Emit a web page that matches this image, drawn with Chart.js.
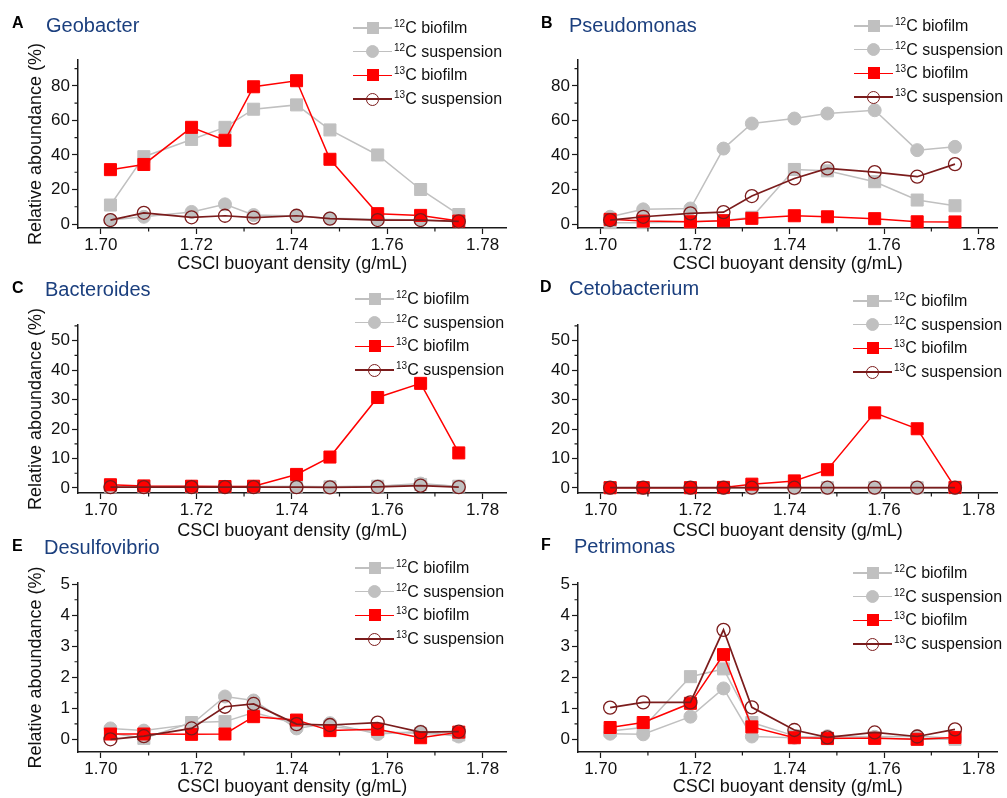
<!DOCTYPE html>
<html><head><meta charset="utf-8">
<script src="https://cdn.jsdelivr.net/npm/chart.js@4.4.1/dist/chart.umd.min.js"></script>
<style>
html,body{margin:0;padding:0;background:#fff;}
#wrap{position:relative;width:1007px;height:798px;overflow:hidden;font-family:"Liberation Sans",Arial,sans-serif;}
canvas{position:absolute;}
.lbl{position:absolute;white-space:nowrap;line-height:1;z-index:5;}
.letter{font-weight:bold;font-size:16px;color:#000;}
.name{font-size:20px;color:#1b3f7e;}
.leg{position:absolute;z-index:5;}
.row{position:absolute;left:0;height:0;width:200px;}
.ln{position:absolute;left:0;width:39px;height:1.5px;top:-0.75px;}
.mk{position:absolute;box-sizing:border-box;}
.tx{position:absolute;left:41px;top:-10px;font-size:16px;color:#111;white-space:nowrap;line-height:20px;}
.tx sup{font-size:10px;vertical-align:0;position:relative;top:-6px;line-height:0;}
</style>
</head>
<body>
<div id="wrap">
  <canvas id="cA" width="516" height="275" style="left:0;top:0"></canvas>
  <canvas id="cB" width="507" height="275" style="left:500px;top:0"></canvas>
  <canvas id="cC" width="516" height="272" style="left:0;top:270px"></canvas>
  <canvas id="cD" width="507" height="272" style="left:500px;top:270px"></canvas>
  <canvas id="cE" width="516" height="268" style="left:0;top:530px"></canvas>
  <canvas id="cF" width="507" height="268" style="left:500px;top:530px"></canvas>
</div>
<script>
// ---------- data ----------
const DENSITY = [1.702, 1.709, 1.719, 1.726, 1.732, 1.741, 1.748, 1.758, 1.767, 1.775];
const X_TICKS = [1.70, 1.72, 1.74, 1.76, 1.78];
const X_TICK_LABELS = ['1.70', '1.72', '1.74', '1.76', '1.78'];
const X_MINOR = [1.71, 1.73, 1.75, 1.77];
const SERIES = ['\u00B9\u00B2C biofilm', '\u00B9\u00B2C suspension', '\u00B9\u00B3C biofilm', '\u00B9\u00B3C suspension'];
const SERIES_SUP = ['12', '12', '13', '13'];
const SERIES_REST = ['C biofilm', 'C suspension', 'C biofilm', 'C suspension'];
const PANEL_LETTERS = ['A', 'B', 'C', 'D', 'E', 'F'];
const PANEL_NAMES = ['Geobacter', 'Pseudomonas', 'Bacteroides', 'Cetobacterium', 'Desulfovibrio', 'Petrimonas'];
const X_TITLE = 'CSCl buoyant density (g/mL)';
const Y_TITLE = 'Relative aboundance (%)';

const Y_TICKS_AB = [0, 20, 40, 60, 80];
const Y_MINOR_AB = [10, 30, 50, 70, 90];
const Y_TICKS_CD = [0, 10, 20, 30, 40, 50];
const Y_MINOR_CD = [5, 15, 25, 35, 45, 55];
const Y_TICKS_EF = [0, 1, 2, 3, 4, 5];
const Y_MINOR_EF = [0.5, 1.5, 2.5, 3.5, 4.5];

// Geobacter
const GEO_12C_BIOFILM = [11, 39, 49, 56, 66.5, 69, 54.5, 40, 20, 5.5];
const GEO_12C_SUSP    = [2.3, 4.2, 7, 11.4, 5.2, 4.6, 3.3, 2.7, 2.3, 1.3];
const GEO_13C_BIOFILM = [31.5, 34.5, 56, 48.5, 79.5, 83, 37.5, 6, 5, 1.7];
const GEO_13C_SUSP    = [2.3, 6.5, 3.9, 4.8, 3.7, 4.8, 3.1, 2.3, 2.3, 1.5];
// Pseudomonas
const PSE_12C_BIOFILM = [0.8, 0.8, 1.3, 2, 3.9, 31.6, 30.8, 24.5, 13.9, 10.6];
const PSE_12C_SUSP    = [4.2, 8.5, 9, 43.7, 58.2, 61.1, 64, 65.9, 42.8, 44.7];
const PSE_13C_BIOFILM = [2.7, 1.7, 1.3, 1.9, 3.3, 4.8, 4.2, 3.1, 1.3, 1.2];
const PSE_13C_SUSP    = [2.3, 4.2, 6.2, 6.9, 16.2, 26.4, 32.2, 30.1, 27.4, 34.7];
// Bacteroides
const BAC_12C_BIOFILM = [0.5, 0.5, 0.5, 0.5, 0.5, 0.5, 0.4, 0.6, 1.2, 0.6];
const BAC_12C_SUSP    = [0.4, 0.4, 0.4, 0.4, 0.4, 0.5, 0.4, 0.6, 1.5, 0.5];
const BAC_13C_BIOFILM = [1.1, 0.7, 0.6, 0.5, 0.6, 4.6, 10.5, 30.7, 35.5, 11.9];
const BAC_13C_SUSP    = [0.3, 0.3, 0.3, 0.3, 0.3, 0.3, 0.2, 0.4, 0.8, 0.3];
// Cetobacterium
const CET_12C_BIOFILM = [0.1, 0.1, 0.1, 0.1, 0.1, 0.1, 0.1, 0.1, 0.1, 0.1];
const CET_12C_SUSP    = [0, 0, 0, 0, 0.1, 0.1, 0.1, 0.1, 0.1, 0];
const CET_13C_BIOFILM = [0.1, 0.1, 0.1, 0.2, 1.3, 2.4, 6.2, 25.5, 20.1, 0.2];
const CET_13C_SUSP    = [0.1, 0.1, 0.1, 0.1, 0.1, 0.1, 0.1, 0.1, 0.1, 0.1];
// Desulfovibrio
const DES_12C_BIOFILM = [0.2, 0.03, 0.54, 0.57, 0.86, 0.5, 0.41, 0.25, 0.19, 0.14];
const DES_12C_SUSP    = [0.35, 0.28, 0.48, 1.38, 1.25, 0.35, 0.52, 0.17, 0.25, 0.09];
const DES_13C_BIOFILM = [0.17, 0.17, 0.16, 0.17, 0.73, 0.62, 0.28, 0.32, 0.05, 0.23];
const DES_13C_SUSP    = [0.0, 0.1, 0.35, 1.05, 1.14, 0.49, 0.46, 0.54, 0.23, 0.25];
// Petrimonas
const PET_12C_BIOFILM = [0.27, 0.38, 2.02, 2.27, 0.54, 0.11, 0.02, 0.05, 0.0, 0.0];
const PET_12C_SUSP    = [0.18, 0.16, 0.73, 1.64, 0.09, 0.05, 0.1, 0.08, 0.1, 0.03];
const PET_13C_BIOFILM = [0.38, 0.54, 1.16, 2.73, 0.4, 0.05, 0.03, 0.03, 0.0, 0.06];
const PET_13C_SUSP    = [1.02, 1.19, 1.19, 3.53, 1.03, 0.3, 0.06, 0.22, 0.09, 0.32];

// ---------- styling / layout ----------
const FONT = '"Liberation Sans", Arial, sans-serif';
const GRAY = '#c0c0c0', RED = '#ff0000', DARKRED = '#7b1c1c', AXIS = '#1a1a1a';
const STYLES = [
  {color: GRAY, fill: GRAY, shape: 'rect', r: 8.5, bw: 1, lw: 1.5, order: 3},
  {color: GRAY, fill: GRAY, shape: 'circle', r: 6.5, bw: 1, lw: 1.5, order: 2},
  {color: RED, fill: RED, shape: 'rect', r: 8.5, bw: 1, lw: 1.5, order: 1},
  {color: DARKRED, fill: 'rgba(255,255,255,0)', shape: 'circle', r: 6.5, bw: 1.3, lw: 1.7, order: 0}
];

const minorTicks = {
  id: 'minorTicks',
  afterDraw(chart, args, opts) {
    const ctx = chart.ctx, a = chart.chartArea;
    const xs = chart.scales.x, ys = chart.scales.y;
    ctx.save();
    ctx.strokeStyle = AXIS; ctx.lineWidth = 1.2;
    ctx.beginPath();
    (opts.x || []).forEach(v => {
      const p = xs.getPixelForValue(v);
      if (p < a.left || p > a.right) return;
      ctx.moveTo(p, a.bottom); ctx.lineTo(p, a.bottom + 3.5);
    });
    (opts.y || []).forEach(v => {
      const p = ys.getPixelForValue(v);
      if (p < a.top - 0.5 || p > a.bottom) return;
      ctx.moveTo(a.left, p); ctx.lineTo(a.left - 3.5, p);
    });
    ctx.stroke();
    ctx.restore();
  }
};

function makeChart(id, series, cfg) {
  const datasets = series.map((vals, i) => {
    const s = STYLES[i];
    return {
      label: SERIES[i],
      data: DENSITY.map((d, k) => ({x: d, y: vals[k]})),
      borderColor: s.color, borderWidth: s.lw,
      pointStyle: s.shape, pointRadius: s.r, pointHoverRadius: s.r,
      pointBackgroundColor: s.fill, pointBorderColor: s.color, pointBorderWidth: s.bw,
      tension: 0, fill: false, clip: false, order: s.order
    };
  });
  new Chart(document.getElementById(id), {
    type: 'line',
    data: {datasets},
    plugins: [minorTicks],
    options: {
      responsive: false, animation: false, devicePixelRatio: 1,
      layout: {padding: {top: cfg.padTop, right: cfg.padRight, left: 0, bottom: 0}},
      plugins: {legend: {display: false}, tooltip: {enabled: false},
                minorTicks: {x: X_MINOR, y: cfg.yMinor}},
      scales: {
        x: {
          type: 'linear', min: cfg.xmin, max: cfg.xmax,
          afterBuildTicks: s => { s.ticks = X_TICKS.map(v => ({value: v})); },
          afterFit: s => { s.height = cfg.xh; },
          ticks: {callback: (v, i) => X_TICK_LABELS[i], font: {size: 17, family: FONT}, color: '#111',
                  padding: 1, maxRotation: 0, autoSkip: false},
          grid: {drawOnChartArea: false, drawTicks: true, tickLength: 6, tickColor: AXIS, tickWidth: 1.2},
          border: {display: true, color: AXIS, width: 1.5},
          title: {display: true, text: X_TITLE, font: {size: 18, family: FONT}, color: '#111', padding: 0}
        },
        y: {
          type: 'linear', min: cfg.ymin, max: cfg.ymax,
          afterBuildTicks: s => { s.ticks = cfg.yTicks.map(v => ({value: v})); },
          afterFit: s => { s.width = 78; },
          ticks: {callback: v => String(v), font: {size: 17, family: FONT}, color: '#111', padding: 2, autoSkip: false},
          grid: {drawOnChartArea: false, drawTicks: true, tickLength: 6, tickColor: AXIS, tickWidth: 1.2},
          border: {display: true, color: AXIS, width: 1.5},
          title: {display: cfg.yTitle, text: Y_TITLE, font: {size: 18, family: FONT}, color: '#111',
                  padding: {top: 25, bottom: 0}}
        }
      }
    }
  });
}

const LEFT = {xmin: 1.6952, xmax: 1.7850, padRight: 4, yTitle: true};
const RIGHT = {xmin: 1.6952, xmax: 1.7840, padRight: 0, yTitle: false};
const ROW1 = {padTop: 60, xh: 47, ymin: -2.3, ymax: 95, yTicks: Y_TICKS_AB, yMinor: Y_MINOR_AB};
const ROW2 = {padTop: 55, xh: 49, ymin: -1.7, ymax: 55.3, yTicks: Y_TICKS_CD, yMinor: Y_MINOR_CD};
const ROW3 = {padTop: 53, xh: 46, ymin: -0.41, ymax: 5.04, yTicks: Y_TICKS_EF, yMinor: Y_MINOR_EF};

makeChart('cA', [GEO_12C_BIOFILM, GEO_12C_SUSP, GEO_13C_BIOFILM, GEO_13C_SUSP], Object.assign({}, LEFT, ROW1));
makeChart('cB', [PSE_12C_BIOFILM, PSE_12C_SUSP, PSE_13C_BIOFILM, PSE_13C_SUSP], Object.assign({}, RIGHT, ROW1));
makeChart('cC', [BAC_12C_BIOFILM, BAC_12C_SUSP, BAC_13C_BIOFILM, BAC_13C_SUSP], Object.assign({}, LEFT, ROW2));
makeChart('cD', [CET_12C_BIOFILM, CET_12C_SUSP, CET_13C_BIOFILM, CET_13C_SUSP], Object.assign({}, RIGHT, ROW2));
makeChart('cE', [DES_12C_BIOFILM, DES_12C_SUSP, DES_13C_BIOFILM, DES_13C_SUSP], Object.assign({}, LEFT, ROW3));
makeChart('cF', [PET_12C_BIOFILM, PET_12C_SUSP, PET_13C_BIOFILM, PET_13C_SUSP], Object.assign({}, RIGHT, ROW3));

// ---------- titles and legends (HTML text) ----------
const TITLE_POS = [
  {lx: 12, ly: 23, nx: 46, ny: 25}, {lx: 541, ly: 23, nx: 569, ny: 25},
  {lx: 12, ly: 288, nx: 45, ny: 289}, {lx: 540, ly: 287, nx: 569, ny: 288},
  {lx: 12, ly: 546, nx: 44, ny: 547}, {lx: 541, ly: 545, nx: 574, ny: 546}
];
const LEG_POS = [{x: 353, y: 28}, {x: 854, y: 26}, {x: 355, y: 299}, {x: 853, y: 301}, {x: 355, y: 568}, {x: 853, y: 573}];
const wrap = document.getElementById('wrap');
TITLE_POS.forEach((p, i) => {
  const l = document.createElement('div');
  l.className = 'lbl letter'; l.textContent = PANEL_LETTERS[i];
  l.style.left = p.lx + 'px'; l.style.top = (p.ly - 8.5) + 'px';
  wrap.appendChild(l);
  const n = document.createElement('div');
  n.className = 'lbl name'; n.textContent = PANEL_NAMES[i];
  n.style.left = p.nx + 'px'; n.style.top = (p.ny - 10.5) + 'px';
  wrap.appendChild(n);
});
LEG_POS.forEach(p => {
  const g = document.createElement('div');
  g.className = 'leg'; g.style.left = p.x + 'px'; g.style.top = p.y + 'px';
  STYLES.forEach((s, i) => {
    const r = document.createElement('div');
    r.className = 'row'; r.style.top = (i * 23.7) + 'px';
    const ln = document.createElement('div');
    ln.className = 'ln'; ln.style.background = s.color;
    r.appendChild(ln);
    const mk = document.createElement('div');
    mk.className = 'mk';
    const sz = s.shape === 'rect' ? 12 : 13;
    mk.style.width = sz + 'px'; mk.style.height = sz + 'px';
    mk.style.left = (19.5 - sz / 2) + 'px'; mk.style.top = (-sz / 2) + 'px';
    mk.style.background = s.fill;
    if (s.shape === 'circle') mk.style.borderRadius = '50%';
    mk.style.border = s.bw + 'px solid ' + s.color;
    r.appendChild(mk);
    const tx = document.createElement('div');
    tx.className = 'tx';
    const sup = document.createElement('sup'); sup.textContent = SERIES_SUP[i];
    tx.appendChild(sup); tx.appendChild(document.createTextNode(SERIES_REST[i]));
    r.appendChild(tx);
    g.appendChild(r);
  });
  wrap.appendChild(g);
});
</script>
</body></html>
